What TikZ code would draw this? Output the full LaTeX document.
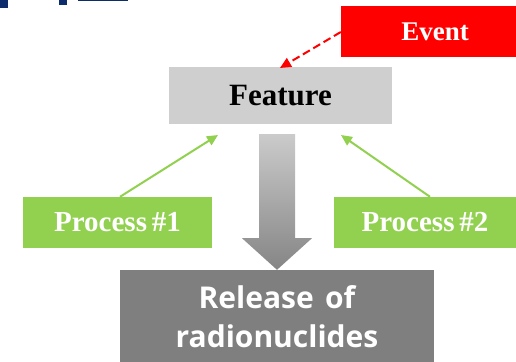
\documentclass[tikz,border=0pt]{standalone}
\usepackage{fontspec}
\setmainfont{Liberation Serif}
\newfontfamily\relfont{Open Sans}[BoldFont={Open Sans Bold}]
\usetikzlibrary{arrows.meta,calc}
\definecolor{evred}{HTML}{FF0000}
\definecolor{procgreen}{HTML}{92D050}
\definecolor{featgray}{HTML}{D0CFCF}
\definecolor{relgray}{HTML}{7F7F7F}
\definecolor{titleblue}{HTML}{0C2C6C}
\definecolor{arrtop}{HTML}{CBCBCB}
\definecolor{arrmid}{HTML}{D8D8D8}
\definecolor{arrbot}{HTML}{858585}
\tikzset{
  box/.style={rectangle, inner sep=0pt, font=\bfseries\fontsize{27}{32}\selectfont},
  eventbox/.style={box, fill=evred, text=white, minimum width=188pt, minimum height=51pt},
  featbox/.style={box, fill=featgray, text=black, minimum width=223pt, minimum height=57pt, font=\bfseries\fontsize{31}{36}\selectfont},
  procbox/.style={box, fill=procgreen, text=white, minimum height=51pt, font=\bfseries\fontsize{29}{34}\selectfont},
  relbox/.style={rectangle, fill=relgray, inner sep=0pt, minimum width=314pt, minimum height=100pt},
  reltext/.style={text=white, inner sep=0pt, font=\relfont\bfseries\fontsize{30}{39}\selectfont},
  greenarrow/.style={draw=procgreen, line width=2pt, -{Triangle[length=11pt,width=10pt]}},
  eventarrow/.style={draw=evred, line width=2pt, dash pattern=on 8pt off 4pt, -{Triangle[length=11pt,width=10pt]}},
}
\begin{document}
\begin{tikzpicture}[x=1pt,y=-1pt]
\useasboundingbox (0,0) rectangle (516,361);
% cut-off title fragments
\fill[titleblue] (0,0) rectangle (8,8);
\fill[titleblue] (59,0) rectangle (67,5.5);
\fill[titleblue] (78,0) rectangle (128,1.5);
% boxes
\node[eventbox] (event) at (435,31.5) {Event};
\node[featbox] (feat) at (280.5,95.5) {Feature};
\node[procbox, minimum width=189pt] (p1) at (117.5,222.5) {Process\,\#1};
\node[procbox, minimum width=182pt] (p2) at (425,222.5) {Process\,\#2};
\node[relbox] (rel) at (277,320) {};
\node[reltext, anchor=base] (relA) at (277,308) {Release\hspace{3.5pt} of};
\node[reltext, anchor=base] (relB) at (277,347) {radionuclides};
% big shaded arrow
\shade[top color=arrtop, middle color=arrmid, bottom color=arrbot]
  ($(feat.south)+(-21.5,10)$) -- ($(feat.south)+(14.5,10)$) -- ($(feat.south)+(14.5,114)$)
  -- ($(feat.south)+(31.5,114)$) -- (rel.north -| 277,0) -- ($(feat.south)+(-38.5,114)$)
  -- ($(feat.south)+(-21.5,114)$) -- cycle;
% connectors
\coordinate (f1) at (218,135);
\coordinate (f2) at (341,135);
\coordinate (fe) at (280,68);
\draw[greenarrow] (p1.north -| 120,0) -- (f1);
\draw[greenarrow] (p2.north -| 430,0) -- (f2);
\draw[eventarrow] (event.west |- 0,32) -- (fe);
\end{tikzpicture}
\end{document}
